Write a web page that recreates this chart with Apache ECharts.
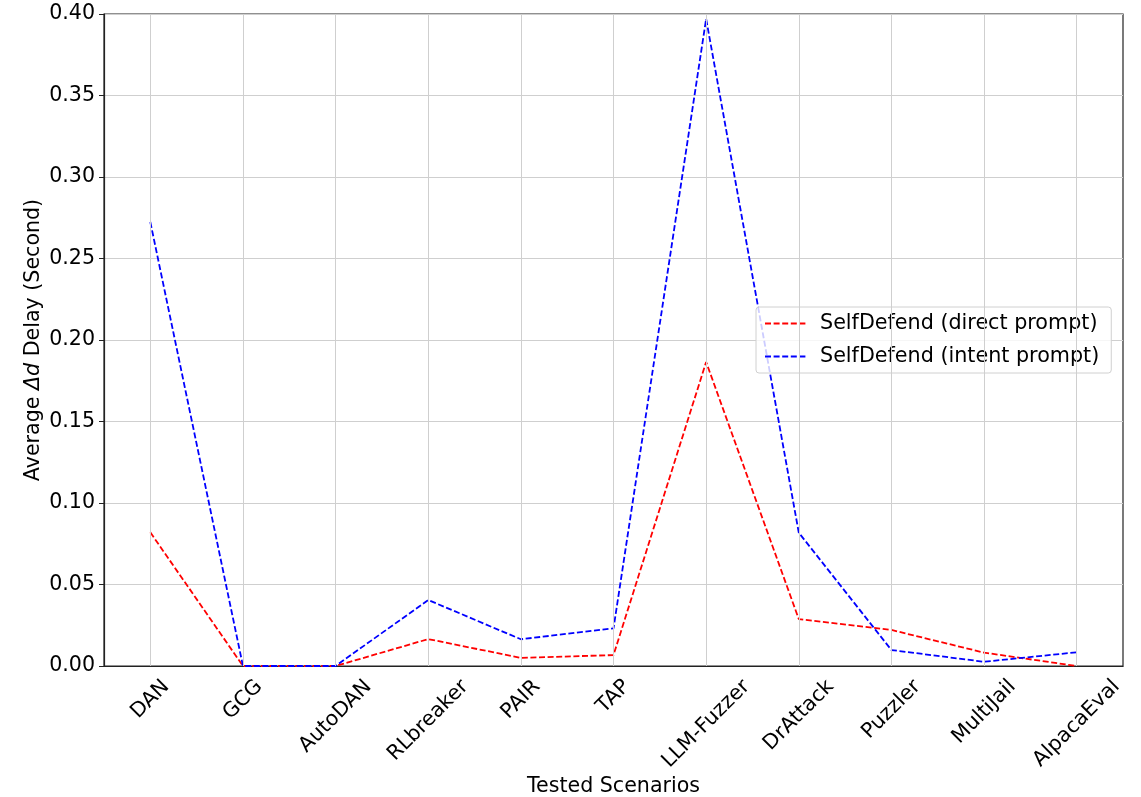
<!DOCTYPE html>
<html><head><meta charset="utf-8">
<script src="https://cdn.jsdelivr.net/npm/echarts@6/dist/echarts.min.js"></script>
<style>html,body{margin:0;padding:0;background:#fff}#c{width:1141px;height:797px}</style>
</head><body><div id="c"></div>
<script>
const categories = ['DAN','GCG','AutoDAN','RLbreaker','PAIR','TAP','LLM-Fuzzer','DrAttack','Puzzler','MultiJail','AlpacaEval'];
const directPrompt = [0.082, 0.0, 0.0, 0.0165, 0.005, 0.0067, 0.1865, 0.0288, 0.0221, 0.0082, 0.0];
const intentPrompt = [0.2724, 0.0, 0.0, 0.0405, 0.0164, 0.0231, 0.397, 0.0818, 0.0098, 0.0026, 0.0084];
const yTicks = {min: 0, max: 0.4, interval: 0.05};

const font = 'DejaVu Sans';
const FS = 20.6, LH = 24;
// centre each rotated label under its tick (matplotlib style) by padding the text box
const ctx = document.createElement('canvas').getContext('2d');
ctx.font = FS + 'px "' + font + '"';
const rich = {};
categories.forEach((c, i) => {
  const w = ctx.measureText(c).width;
  const p = (w + LH) / 2;
  rich['l' + i] = {fontFamily: font, fontSize: FS, color: '#000', lineHeight: LH, padding: [p, p, 0, 0], align: 'center', verticalAlign: 'middle'};
});

const chart = echarts.init(document.getElementById('c'));
chart.setOption({
  animation: false,
  backgroundColor: '#fff',
  textStyle: {fontFamily: font},
  grid: {left: 104, right: 18, top: 14, bottom: 131, containLabel: false, outerBoundsMode: 'none',
    show: true, borderColor: '#222', borderWidth: 1.2, backgroundColor: 'transparent'},
  legend: {
    left: 756, top: 307, orient: 'vertical',
    padding: [6, 12, 6, 8],
    backgroundColor: 'rgba(255,255,255,0.8)', borderColor: '#d0d0d0', borderWidth: 1, borderRadius: 3,
    itemWidth: 42, itemHeight: 20, itemGap: 12,
    itemStyle: {opacity: 0},
    textStyle: {fontFamily: font, fontSize: 20.7, color: '#000', padding: [0,0,0,8]},
    data: ['SelfDefend (direct prompt)', 'SelfDefend (intent prompt)']
  },
  xAxis: {
    type: 'category', data: categories, boundaryGap: true,
    name: 'Tested Scenarios', nameLocation: 'middle', nameGap: 110, nameMoveOverlap: false,
    nameTextStyle: {fontFamily: font, fontSize: FS, color: '#000'},
    axisLine: {lineStyle: {color: '#222', width: 1.2}},
    axisTick: {alignWithLabel: true, length: 5, lineStyle: {color: '#222'}},
    axisLabel: {rotate: 45, margin: 9, interval: 0, align: 'center', verticalAlign: 'middle',
      formatter: (v, i) => '{l' + i + '|' + v + '}', rich: rich},
    splitLine: {show: false}
  },
  yAxis: {
    type: 'value', min: yTicks.min, max: yTicks.max, interval: yTicks.interval,
    name: 'Average {i|Δd} Delay (Second)', nameLocation: 'middle', nameGap: 60, nameMoveOverlap: false,
    nameTextStyle: {fontFamily: font, fontSize: FS, color: '#000',
      rich: {i: {fontFamily: font, fontStyle: 'italic', fontSize: FS, color: '#000'}}},
    axisLine: {show: true, lineStyle: {color: '#222', width: 1.2}},
    axisTick: {show: true, length: 5, lineStyle: {color: '#222'}},
    axisLabel: {fontFamily: font, fontSize: FS, color: '#000', margin: 9, formatter: v => v.toFixed(2)},
    splitLine: {show: true, lineStyle: {color: '#cfcfcf', width: 1}}
  },
  series: [
    {
      name: 'grid', type: 'line', data: [], silent: true, z: 1,
      markLine: {silent: true, symbol: 'none', label: {show: false},
        lineStyle: {color: '#cfcfcf', width: 1, type: 'solid'},
        data: categories.map(c => ({xAxis: c}))}
    },
    {
      name: 'SelfDefend (direct prompt)', type: 'line', data: directPrompt, showSymbol: false, symbol: 'none', z: 3,
      lineStyle: {color: '#ff0000', width: 1.8, type: [6, 2.6]}, itemStyle: {color: '#ff0000'}
    },
    {
      name: 'SelfDefend (intent prompt)', type: 'line', data: intentPrompt, showSymbol: false, symbol: 'none', z: 3,
      lineStyle: {color: '#0000ff', width: 1.8, type: [6, 2.6]}, itemStyle: {color: '#0000ff'}
    }
  ]
});
</script></body></html>
